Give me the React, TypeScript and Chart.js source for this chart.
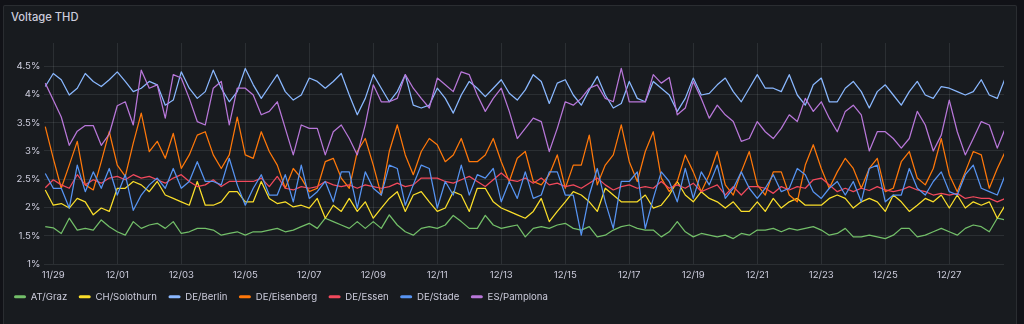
import React, { useEffect, useRef } from "react";
import { Chart, registerables } from "chart.js";

Chart.register(...registerables);

// Time axis: days since 11/29 00:00, one sample every 6 hours
const START_DAY = -0.25;
const STEP_DAYS = 0.25;

const TICK_DAYS = [0, 2, 4, 6, 8, 10, 12, 14, 16, 18, 20, 22, 24, 26, 28];
const TICK_LABELS = ["11/29", "12/01", "12/03", "12/05", "12/07", "12/09", "12/11", "12/13", "12/15", "12/17", "12/19", "12/21", "12/23", "12/25", "12/27"];

const SERIES_NAMES = ["AT/Graz", "CH/Solothurn", "DE/Berlin", "DE/Eisenberg", "DE/Essen", "DE/Stade", "ES/Pamplona"];
const SERIES_COLORS = ["#73BF69", "#FADE2A", "#8AB8FF", "#FF780A", "#F2495C", "#5794F2", "#B877D9"];

const graz = [
  1.66, 1.64, 1.54, 1.81, 1.60, 1.63, 1.60, 1.78, 1.66, 1.57, 1.51, 1.75, 1.63, 1.69, 1.72, 1.63, 1.75, 1.54, 1.57, 1.63, 1.63, 1.60, 1.51, 1.54, 1.57,
  1.51, 1.57, 1.57, 1.60, 1.63, 1.57, 1.60, 1.66, 1.72, 1.63, 1.81, 1.75, 1.69, 1.63, 1.75, 1.63, 1.75, 1.63, 1.87, 1.69, 1.57, 1.51, 1.63, 1.66,
  1.63, 1.69, 1.86, 1.75, 1.63, 1.63, 1.86, 1.69, 1.63, 1.66, 1.69, 1.48, 1.63, 1.66, 1.63, 1.69, 1.72, 1.63, 1.60, 1.66, 1.48, 1.51, 1.60, 1.66,
  1.69, 1.63, 1.60, 1.60, 1.48, 1.57, 1.75, 1.57, 1.48, 1.54, 1.51, 1.48, 1.51, 1.45, 1.54, 1.51, 1.60, 1.60, 1.63, 1.57, 1.63, 1.60, 1.63, 1.66,
  1.60, 1.51, 1.54, 1.63, 1.48, 1.48, 1.51, 1.48, 1.45, 1.51, 1.63, 1.63, 1.48, 1.51, 1.57, 1.63, 1.57, 1.51, 1.63, 1.69, 1.66, 1.57, 1.81, 1.78,
];

const solothurn = [
  2.31, 2.04, 2.07, 1.99, 2.16, 2.10, 1.87, 1.99, 1.93, 2.34, 2.34, 2.46, 2.40, 2.28, 2.46, 2.22, 2.16, 2.10, 2.04, 2.46, 2.04, 2.04, 2.10, 2.28, 2.28,
  2.10, 2.10, 2.46, 2.16, 2.07, 2.10, 2.01, 2.04, 1.99, 2.16, 1.81, 2.04, 1.93, 2.16, 1.93, 2.10, 1.81, 1.99, 2.16, 2.28, 1.93, 2.22, 2.28, 2.10,
  1.93, 1.99, 2.28, 2.22, 1.93, 2.34, 2.34, 2.10, 1.99, 1.93, 1.87, 1.81, 1.93, 2.16, 1.75, 1.93, 2.10, 2.28, 2.22, 2.10, 1.93, 2.34, 2.22, 2.10,
  2.10, 2.10, 2.22, 1.99, 2.04, 2.22, 2.46, 2.22, 2.10, 2.28, 2.16, 2.10, 1.99, 2.10, 1.93, 1.93, 2.10, 1.93, 2.16, 1.99, 2.10, 2.16, 2.04, 2.04,
  2.04, 2.16, 2.22, 2.16, 1.99, 2.10, 2.16, 2.10, 1.93, 2.22, 2.10, 1.93, 2.04, 2.16, 2.10, 2.22, 1.99, 2.22, 1.99, 2.10, 2.04, 2.10, 1.81, 2.04,
];

const berlin = [
  4.14, 4.37, 4.26, 3.99, 4.11, 4.37, 4.23, 4.14, 4.26, 4.40, 4.23, 4.05, 4.11, 4.23, 4.17, 3.81, 3.90, 4.40, 4.11, 3.93, 4.05, 4.43, 4.11, 3.87, 4.05,
  4.46, 4.17, 3.93, 4.14, 4.35, 4.05, 3.90, 3.99, 4.29, 4.23, 4.11, 4.23, 4.37, 3.99, 3.64, 3.93, 4.35, 4.11, 3.87, 4.05, 4.35, 3.81, 3.76, 3.81,
  4.11, 3.93, 3.67, 3.99, 4.23, 4.11, 3.96, 4.11, 4.26, 4.02, 3.90, 4.08, 4.35, 4.23, 3.84, 4.20, 4.26, 3.99, 3.81, 4.08, 4.32, 3.99, 3.76, 3.84,
  4.23, 3.93, 3.87, 4.23, 4.11, 3.99, 3.70, 3.93, 4.29, 3.99, 4.02, 4.17, 4.29, 4.05, 3.87, 4.11, 4.35, 4.11, 4.11, 4.05, 4.35, 3.99, 3.81, 4.17,
  4.29, 3.87, 3.87, 4.11, 4.23, 4.05, 3.76, 4.05, 4.17, 3.99, 3.81, 4.05, 4.23, 3.99, 3.93, 4.14, 4.11, 4.05, 3.99, 4.05, 4.26, 3.99, 3.93, 4.29,
];

const eisenberg = [
  3.43, 2.87, 2.34, 2.75, 3.17, 2.40, 2.31, 2.81, 3.34, 2.75, 2.55, 3.14, 3.67, 2.99, 3.17, 2.87, 3.31, 2.69, 2.93, 3.28, 3.34, 2.93, 2.69, 2.93, 3.60,
  2.93, 2.87, 3.34, 2.99, 2.75, 2.34, 2.69, 2.52, 2.28, 2.34, 2.81, 2.87, 2.52, 2.34, 2.99, 3.22, 2.75, 2.22, 2.99, 3.46, 2.93, 2.58, 2.99, 3.22,
  3.11, 2.81, 2.93, 3.22, 2.81, 2.81, 2.93, 3.22, 2.81, 2.46, 2.87, 2.99, 2.46, 2.40, 2.58, 2.93, 2.34, 2.75, 2.75, 3.28, 2.40, 2.75, 2.93, 3.46,
  2.81, 2.46, 2.99, 3.34, 2.52, 2.28, 2.46, 2.93, 2.63, 2.28, 2.58, 2.99, 2.40, 2.22, 2.63, 2.99, 2.40, 2.22, 2.63, 2.63, 2.22, 2.10, 2.75, 3.11,
  2.69, 2.34, 2.63, 2.87, 2.69, 2.34, 2.69, 2.87, 2.28, 2.34, 2.81, 2.99, 2.52, 2.40, 2.69, 3.22, 2.58, 2.28, 2.63, 2.99, 2.93, 2.34, 2.69, 2.99,
];

const essen = [
  2.35, 2.49, 2.40, 2.34, 2.58, 2.40, 2.49, 2.43, 2.52, 2.55, 2.49, 2.58, 2.52, 2.55, 2.49, 2.43, 2.52, 2.58, 2.46, 2.37, 2.40, 2.49, 2.37, 2.46, 2.46,
  2.46, 2.46, 2.52, 2.37, 2.55, 2.34, 2.31, 2.37, 2.34, 2.37, 2.46, 2.40, 2.37, 2.40, 2.34, 2.40, 2.37, 2.34, 2.37, 2.43, 2.37, 2.40, 2.52, 2.52,
  2.52, 2.46, 2.43, 2.49, 2.55, 2.46, 2.37, 2.49, 2.61, 2.49, 2.46, 2.52, 2.43, 2.52, 2.40, 2.43, 2.37, 2.40, 2.34, 2.43, 2.52, 2.40, 2.31, 2.37,
  2.40, 2.34, 2.37, 2.34, 2.46, 2.34, 2.40, 2.34, 2.43, 2.28, 2.34, 2.40, 2.22, 2.37, 2.22, 2.37, 2.37, 2.34, 2.25, 2.37, 2.31, 2.37, 2.34, 2.49,
  2.52, 2.40, 2.28, 2.34, 2.28, 2.34, 2.30, 2.37, 2.31, 2.28, 2.31, 2.37, 2.31, 2.28, 2.22, 2.25, 2.22, 2.25, 2.16, 2.19, 2.16, 2.16, 2.10, 2.16,
];

const stade = [
  2.60, 2.34, 2.34, 1.99, 2.75, 2.28, 2.63, 2.34, 2.69, 2.22, 2.58, 1.95, 2.22, 2.40, 2.52, 2.34, 2.69, 2.34, 2.46, 2.81, 2.46, 2.46, 2.40, 2.87, 2.40,
  2.04, 2.34, 2.58, 2.22, 2.22, 2.58, 2.10, 2.75, 2.16, 2.28, 2.46, 2.10, 2.63, 2.63, 1.99, 2.63, 2.34, 2.22, 2.75, 2.69, 2.04, 2.40, 2.75, 2.69,
  1.99, 2.46, 2.22, 2.75, 2.22, 2.58, 2.52, 2.69, 2.10, 2.46, 2.16, 2.63, 2.16, 2.22, 2.63, 2.63, 2.22, 2.22, 1.51, 2.22, 2.69, 2.10, 1.63, 2.46,
  2.46, 2.63, 1.63, 2.16, 2.63, 2.46, 2.10, 2.69, 2.16, 2.63, 2.40, 2.75, 2.16, 2.34, 2.63, 2.34, 2.16, 2.34, 2.58, 2.28, 2.34, 2.69, 2.58, 2.28,
  2.16, 2.34, 2.46, 2.22, 2.46, 2.10, 2.69, 2.75, 2.10, 2.22, 2.22, 2.69, 2.34, 2.22, 2.46, 2.63, 2.28, 2.22, 2.58, 2.75, 2.34, 2.28, 2.22, 2.58,
];

const pamplona = [
  4.20, 3.90, 3.60, 3.10, 3.35, 3.45, 3.45, 3.10, 3.30, 3.80, 3.87, 3.46, 4.43, 4.11, 4.17, 3.58, 4.35, 4.29, 3.93, 3.52, 3.46, 4.11, 4.23, 3.46, 4.11,
  4.11, 3.99, 3.64, 3.70, 3.87, 3.40, 2.93, 3.46, 3.40, 3.40, 2.93, 3.34, 3.46, 3.22, 2.93, 3.46, 4.17, 3.87, 3.87, 3.93, 4.35, 4.11, 3.93, 3.76,
  4.29, 4.17, 4.05, 4.40, 4.35, 3.99, 3.70, 3.93, 4.11, 3.70, 3.22, 3.40, 3.58, 3.52, 2.99, 3.40, 3.87, 3.81, 3.93, 4.11, 4.17, 3.93, 3.87, 4.46,
  3.87, 3.87, 3.87, 4.35, 4.20, 4.30, 3.64, 3.76, 4.23, 3.93, 3.58, 3.81, 3.64, 3.52, 3.17, 3.22, 3.52, 3.34, 3.22, 3.40, 3.64, 3.52, 3.93, 3.70,
  3.87, 3.58, 3.34, 3.70, 3.81, 3.64, 3.00, 3.34, 3.34, 3.22, 3.05, 3.22, 3.70, 3.46, 3.00, 3.28, 3.90, 3.34, 2.93, 3.22, 3.52, 3.46, 3.05, 3.40,
];

const SERIES_VALUES = [graz, solothurn, berlin, eisenberg, essen, stade, pamplona];

const TEXT = "rgb(204, 204, 220)";
const GRID = "rgba(240, 250, 255, 0.09)";
const FONT = "Inter";

export default function App() {
  const canvasRef = useRef<HTMLCanvasElement | null>(null);

  useEffect(() => {
    document.body.style.margin = "0";
    document.body.style.background = "#111217";
    const canvas = canvasRef.current;
    if (!canvas) return;

    const datasets = SERIES_NAMES.map((name, i) => ({
      label: name,
      data: SERIES_VALUES[i].map((v, j) => ({ x: START_DAY + j * STEP_DAYS, y: v })),
      borderColor: SERIES_COLORS[i],
      backgroundColor: SERIES_COLORS[i],
      borderWidth: 1.25,
      pointRadius: 0,
      tension: 0,
      borderJoinStyle: "round" as const,
      order: SERIES_NAMES.length - i,
    }));

    const chart = new Chart(canvas, {
      type: "line",
      data: { datasets },
      options: {
        animation: false,
        responsive: false,
        events: [],
        layout: { padding: { left: 2.5, right: 13, top: 13, bottom: 12.5 } },
        plugins: {
          tooltip: { enabled: false },
          title: { display: false },
          legend: {
            display: true,
            position: "bottom",
            align: "start",
            labels: {
              boxWidth: 12,
              boxHeight: 3,
              padding: 11.5,
              color: TEXT,
              font: { family: FONT, size: 9.6 },
              generateLabels: (c: any) =>
                c.data.datasets.map((ds: any, i: number) => ({
                  text: ds.label,
                  fillStyle: ds.borderColor,
                  strokeStyle: ds.borderColor,
                  lineWidth: 0,
                  hidden: false,
                  datasetIndex: i,
                  borderRadius: 1.5,
                  fontColor: TEXT,
                })),
            },
          },
        },
        scales: {
          x: {
            type: "linear",
            min: -0.28,
            max: 29.71,
            afterBuildTicks: (scale: any) => {
              scale.ticks = TICK_DAYS.map((v) => ({ value: v }));
            },
            afterFit: (scale: any) => {
              scale.height = 16.4;
            },
            ticks: {
              autoSkip: false,
              maxRotation: 0,
              padding: 5,
              color: TEXT,
              font: { family: FONT, size: 9.6 },
              callback: (value: any) => {
                const idx = TICK_DAYS.indexOf(Number(value));
                return idx >= 0 ? TICK_LABELS[idx] : null;
              },
            },
            grid: { color: GRID, drawTicks: false, lineWidth: 1 },
            border: { display: false },
          },
          y: {
            type: "linear",
            min: 1,
            max: 4.91,
            afterFit: (scale: any) => {
              scale.width = 41.8;
            },
            ticks: {
              stepSize: 0.5,
              includeBounds: false,
              padding: 4,
              color: TEXT,
              font: { family: FONT, size: 9.6 },
              callback: (value: any) => {
                const v = Number(value);
                if (Math.abs(v * 2 - Math.round(v * 2)) > 1e-6) return null;
                return parseFloat(v.toFixed(1)) + "%";
              },
            },
            grid: { color: GRID, drawTicks: false, lineWidth: 1 },
            border: { display: false },
          },
        },
      },
    });

    return () => {
      chart.destroy();
    };
  }, []);

  return (
    <div style={{ position: "relative", width: 1024, height: 324, background: "#111217", overflow: "hidden" }}>
      <div
        style={{
          position: "absolute",
          left: 3,
          top: 5,
          width: 1014,
          height: 330,
          background: "#181b1f",
          border: "1px solid rgba(204, 204, 220, 0.10)",
          borderRadius: 2,
          boxSizing: "border-box",
        }}
      />
      <div
        style={{
          position: "absolute",
          left: 11,
          top: 9.6,
          fontFamily: FONT,
          fontSize: 11.2,
          fontWeight: 500,
          lineHeight: "14px",
          color: TEXT,
          whiteSpace: "nowrap",
        }}
      >
        Voltage THD
      </div>
      <canvas
        ref={canvasRef}
        width={1017}
        height={294}
        style={{ position: "absolute", left: 0, top: 30, width: 1017, height: 294 }}
      />
    </div>
  );
}
